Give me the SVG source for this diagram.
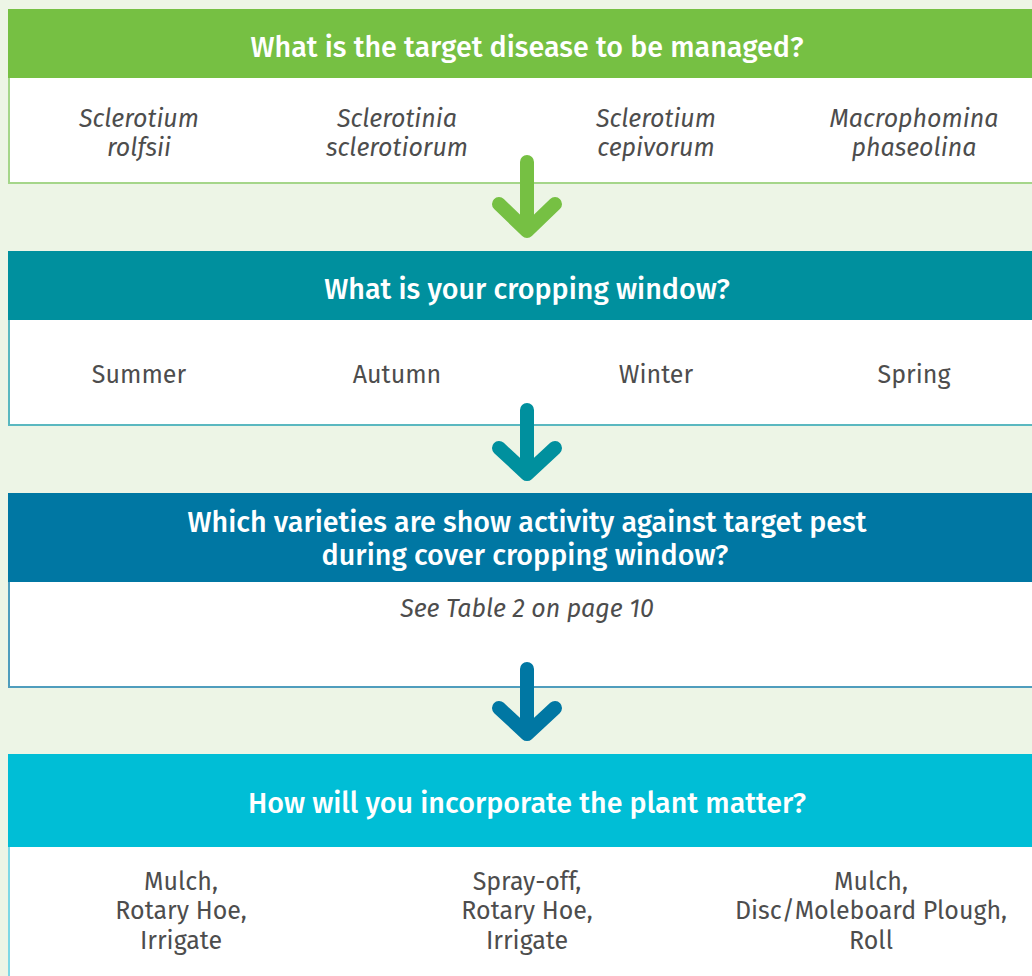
<svg xmlns="http://www.w3.org/2000/svg" width="1032" height="976" viewBox="0 0 1032 976">
<style>
.bg{fill:#edf5e6}
.body{fill:#ffffff;stroke-width:2}
.title{font-family:"Fira Sans","Open Sans","Noto Sans",sans-serif;font-size:28.7px;font-weight:500;fill:#ffffff;text-anchor:middle}
.txt{font-family:"Fira Sans","Open Sans","Noto Sans",sans-serif;font-size:25px;fill:#4d4d4d;text-anchor:middle}
.it{font-style:italic}
.arrow{fill:none;stroke-width:14;stroke-linecap:round;stroke-linejoin:round}
</style>
<rect class="bg" x="0" y="0" width="1032" height="976"/>
<g id="node1">
<rect class="body" x="9" y="10" width="1040" height="173" stroke="#a5d68a"/>
<rect x="8" y="9" width="1030" height="69" fill="#76c043"/>
<text class="title" x="527" y="57">What is the target disease to be managed?</text>
<text class="txt it" x="139" y="127">Sclerotium</text><text class="txt it" x="139" y="156">rolfsii</text>
<text class="txt it" x="397" y="127">Sclerotinia</text><text class="txt it" x="397" y="156">sclerotiorum</text>
<text class="txt it" x="656" y="127">Sclerotium</text><text class="txt it" x="656" y="156">cepivorum</text>
<text class="txt it" x="914" y="127">Macrophomina</text><text class="txt it" x="914" y="156">phaseolina</text>
</g>
<g id="node2">
<rect class="body" x="9" y="252" width="1040" height="173" stroke="#5ab8c0"/>
<rect x="8" y="251" width="1030" height="69" fill="#00909e"/>
<text class="title" x="527" y="299">What is your cropping window?</text>
<text class="txt" x="139" y="383">Summer</text>
<text class="txt" x="397" y="383">Autumn</text>
<text class="txt" x="656" y="383">Winter</text>
<text class="txt" x="914" y="383">Spring</text>
</g>
<g id="node3">
<rect class="body" x="9" y="494" width="1040" height="193" stroke="#4f9dbd"/>
<rect x="8" y="493" width="1030" height="89" fill="#0077a3"/>
<text class="title" x="527" y="532">Which varieties are show activity against target pest</text>
<text class="title" x="525" y="565">during cover cropping window?</text>
<text class="txt it" x="527" y="617">See Table 2 on page 10</text>
</g>
<g id="node4">
<rect class="body" x="9" y="755" width="1040" height="240" stroke="#7ed8e6"/>
<rect x="8" y="754" width="1030" height="93" fill="#00bed6"/>
<text class="title" x="527" y="813">How will you incorporate the plant matter?</text>
<text class="txt" x="181" y="890">Mulch,</text><text class="txt" x="181" y="919">Rotary Hoe,</text><text class="txt" x="181" y="949">Irrigate</text>
<text class="txt" x="527" y="890">Spray-off,</text><text class="txt" x="527" y="919">Rotary Hoe,</text><text class="txt" x="527" y="949">Irrigate</text>
<text class="txt" x="871" y="890">Mulch,</text><text class="txt" x="871" y="919">Disc/Moleboard Plough,</text><text class="txt" x="871" y="949">Roll</text>
</g>
<g id="connectors">
<path class="arrow" stroke="#76c043" d="M527 162 V229 M499 204 L527 231 L555 204"/>
<path class="arrow" stroke="#00909e" d="M527 410 V473 M499 448 L527 474 L555 448"/>
<path class="arrow" stroke="#0077a3" d="M527 669 V733 M499 708 L527 734 L555 708"/>
</g>
</svg>
